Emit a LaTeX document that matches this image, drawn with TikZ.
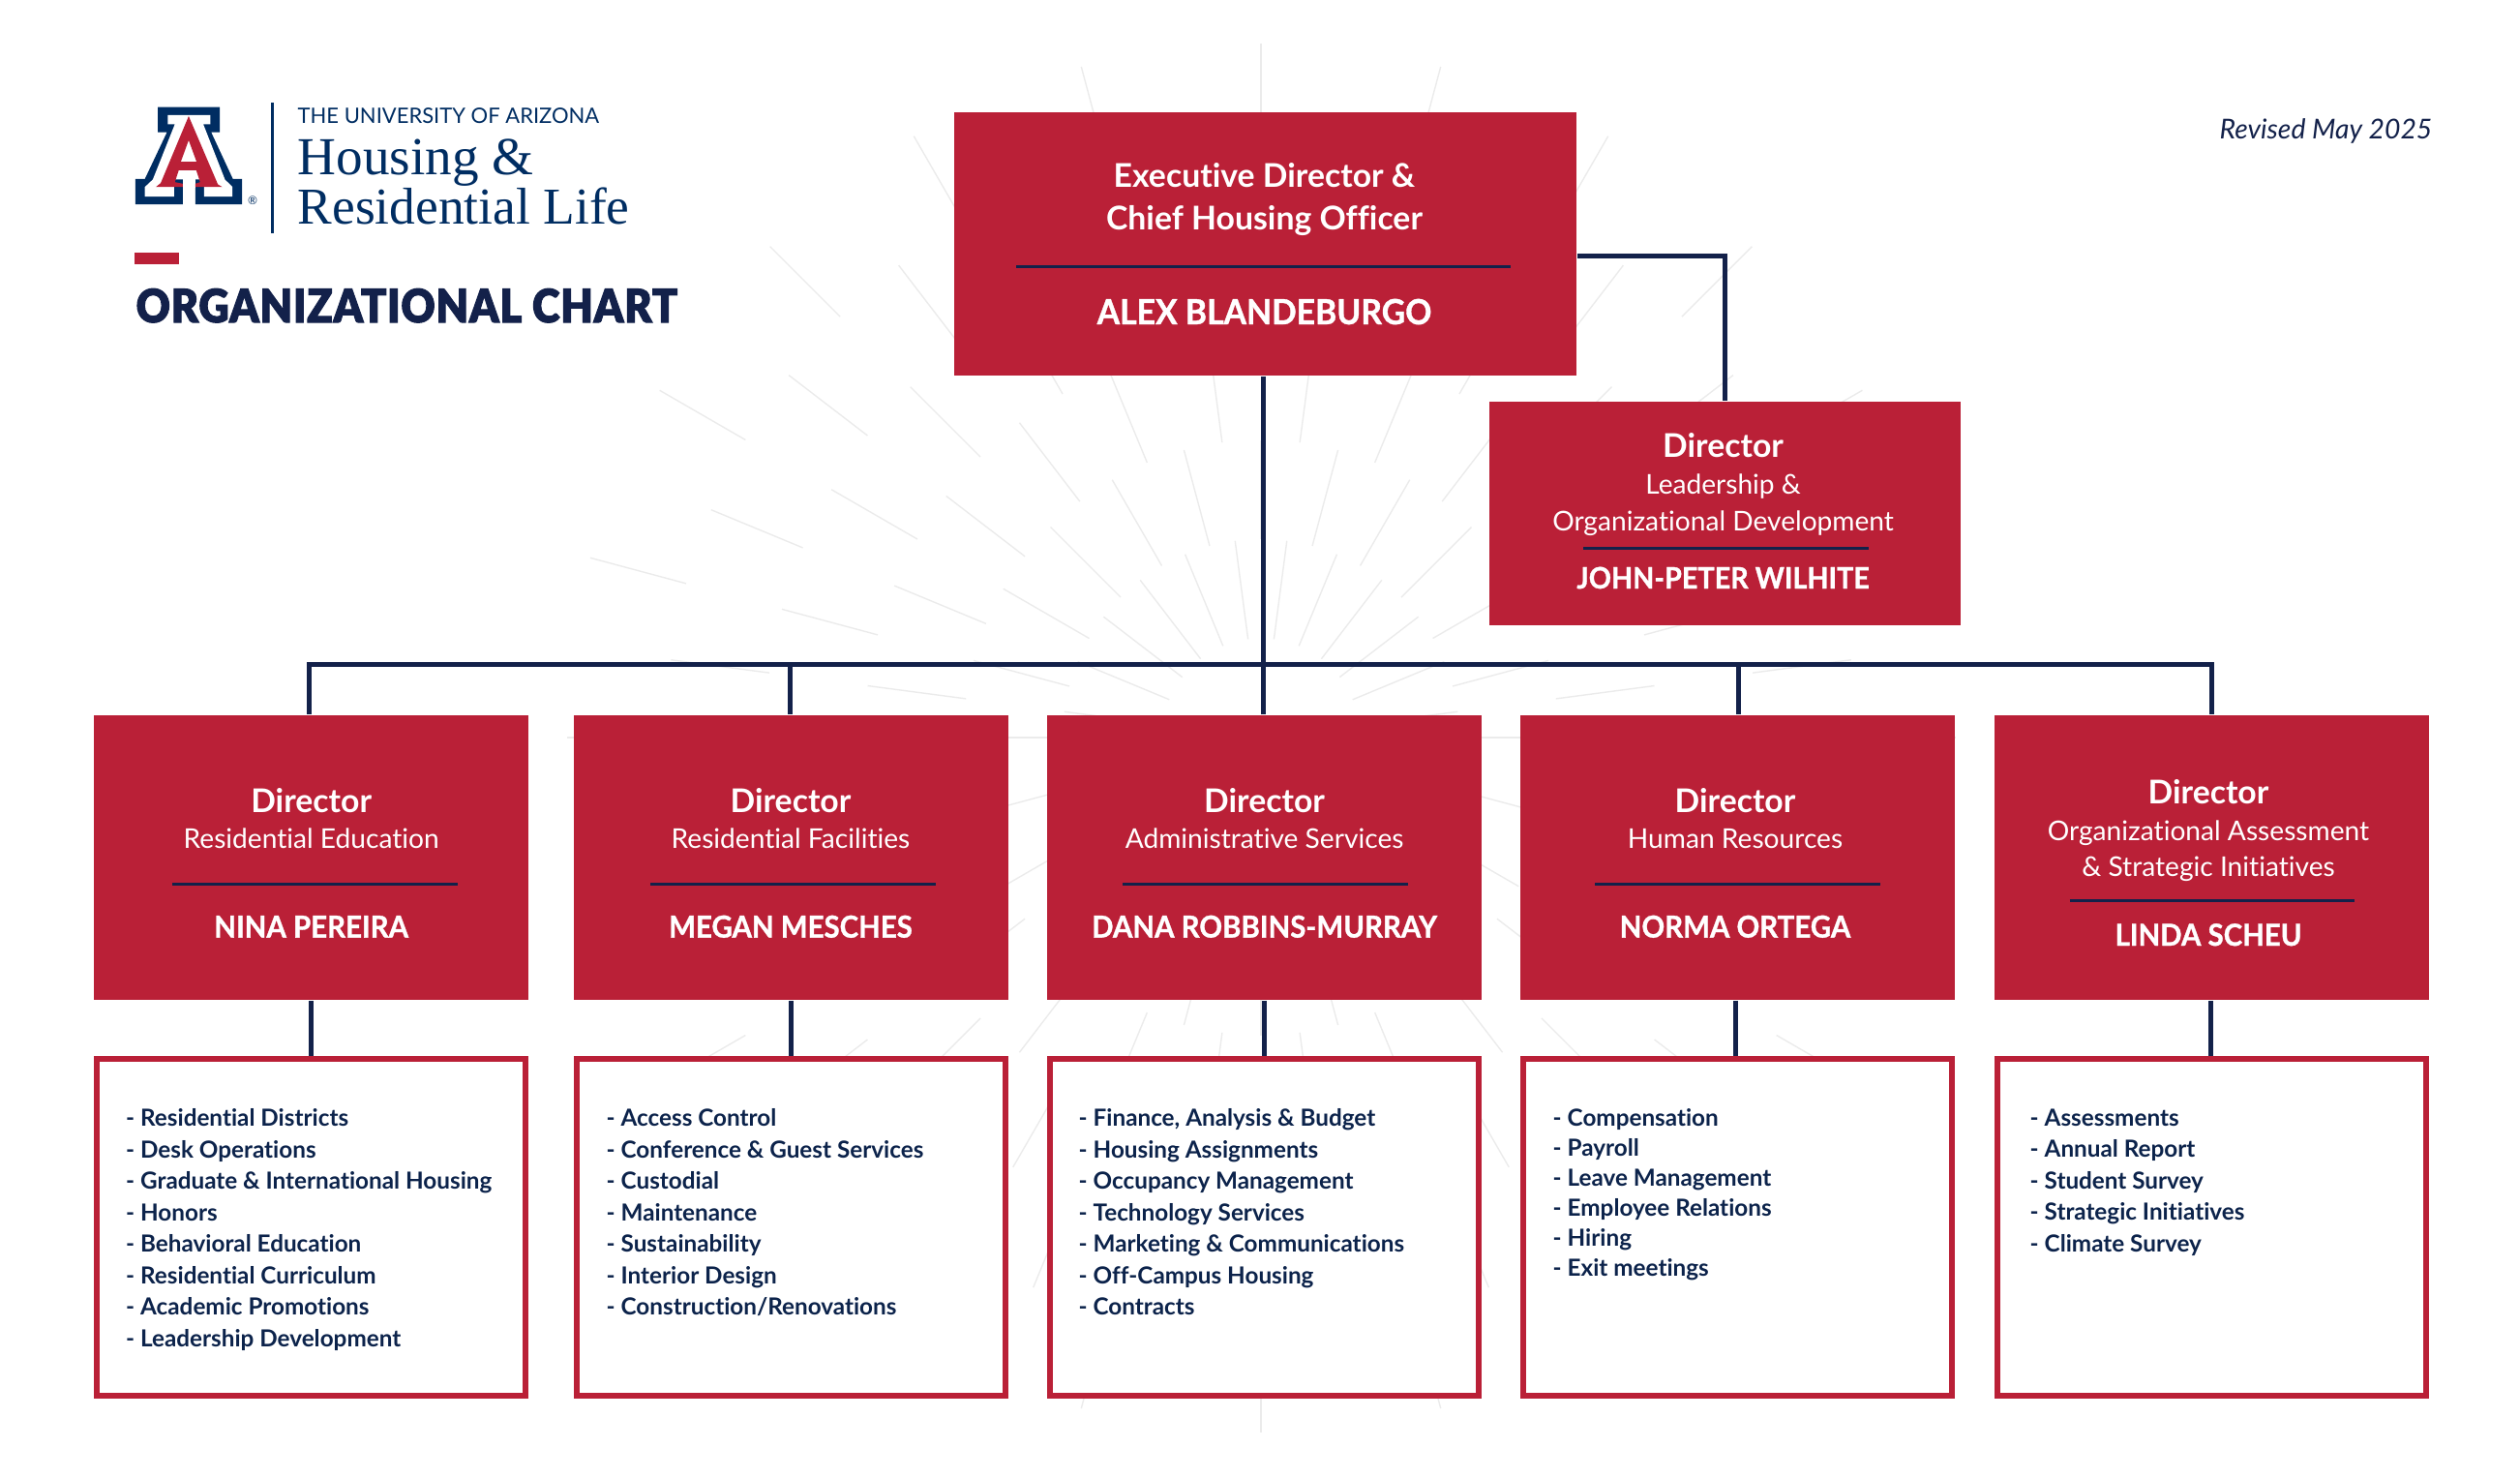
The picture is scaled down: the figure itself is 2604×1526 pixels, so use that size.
\documentclass[tikz,border=0pt]{standalone}
\usepackage{fontspec}
\setmainfont[Ligatures=NoCommon]{Lato}
\newfontfamily\serifmark{Liberation Serif}
\newfontfamily\heavymark[FakeBold=2.2,FakeStretch=0.91,LetterSpace=1.8]{Lato Black}
\newfontfamily\namemark[Ligatures=NoCommon,FakeBold=1,FakeStretch=0.94]{Lato Bold}
\definecolor{boxred}{HTML}{BA2037}
\definecolor{wirenavy}{HTML}{13214A}
\definecolor{textnavy}{HTML}{0C234B}
\definecolor{logonavy}{HTML}{002D62}
\definecolor{rayline}{HTML}{EBEBEB}
\tikzset{
  dirbox/.style={fill=boxred,inner sep=0pt,minimum width=4.49cm,minimum height=2.94cm},
  listbox/.style={draw=boxred,fill=white,line width=0.6mm,inner sep=0pt,minimum width=4.43cm,minimum height=3.48cm},
  wire/.style={draw=wirenavy,line width=0.5mm},
  rulebar/.style={draw=wirenavy,line width=0.3mm},
  ray/.style={draw=rayline,line width=0.14mm},
  headtext/.style={text=white,anchor=base,inner sep=0pt,font=\bfseries\fontsize{9.6}{12}\selectfont},
  subtext/.style={text=white,anchor=base,inner sep=0pt,font=\fontsize{8}{10}\selectfont},
  nametext/.style={text=white,anchor=base,inner sep=0pt,font=\namemark\fontsize{8.9}{12}\selectfont},
  listtext/.style={text=textnavy,anchor=north west,align=left,inner sep=0pt,font=\bfseries\fontsize{6.9}{9.24}\selectfont}
}
\begin{document}
\begin{tikzpicture}[x=0.01cm,y=-0.01cm]
  \useasboundingbox (0,0) rectangle (2604,1526);
  \begin{scope}[shift={(1303,762)}]
    \foreach \ring in {1,...,6}{
      \pgfmathsetmacro{\off}{mod(\ring,2)*7.5}
      \foreach \turn in {0,...,23}{
        \pgfmathsetmacro{\ang}{\off+15*\turn}
        \draw[ray] (\ang:102.5*\ring) -- (\ang:102.5*\ring+102.5);
      }
    }
  \end{scope}

  \begin{scope}[shift={(100,70)},x=0.00408cm,y=-0.00333cm]
    \fill[logonavy] (155,122) -- (312,122) -- (312,200) -- (290,200) -- (345,345) -- (368,345) -- (368,424) -- (250,424) -- (250,370) -- (218,370) -- (218,424) -- (98,424) -- (98,345) -- (122,345) -- (178,200) -- (155,200) -- cycle;
    \fill[white] (180,147) -- (288,147) -- (288,175) -- (270,175) -- (325,347) -- (344,370) -- (344,400) -- (272,400) -- (272,347) -- (196,347) -- (196,400) -- (122,400) -- (122,370) -- (142,347) -- (198,175) -- (180,175) -- cycle;
    \fill[white] (218,340) rectangle (250,372);
    \fill[boxred,even odd rule] (233,150) -- (307,362) -- (318,370) -- (250,370) -- (250,360) -- (262,355) -- (252,318) -- (208,318) -- (198,355) -- (218,360) -- (218,370) -- (150,370) -- (162,358) -- cycle (233,225) -- (253,292) -- (213,292) -- cycle;
  \end{scope}
  \node[text=logonavy,inner sep=0pt,font=\fontsize{3.4}{4}\selectfont] (regmark) at (261,207) {®};
  \draw[draw=logonavy,line width=0.3mm] (281,106) -- (281,241);
  \node[text=logonavy,anchor=base west,inner sep=0pt,font=\fontsize{6.25}{8}\selectfont] (univ) at (307,127) {THE UNIVERSITY OF ARIZONA};
  \node[text=logonavy,anchor=base west,inner sep=0pt,font=\serifmark\fontsize{15.7}{18}\selectfont] (housing) at (307,180) {Housing \&};
  \node[text=logonavy,anchor=base west,inner sep=0pt,font=\serifmark\fontsize{15.2}{18}\selectfont] (reslife) at (307,231) {Residential Life};
  \fill[boxred] (139,261) rectangle (185,273);
  \node[text=wirenavy,anchor=base west,inner sep=0pt,font=\heavymark\fontsize{13.5}{16}\selectfont] (chart) at (140,333) {ORGANIZATIONAL CHART};
  \node[text=wirenavy,anchor=base east,inner sep=0pt,font=\itshape\fontsize{8.05}{10}\selectfont] (revised) at (2514,143) {Revised May 2025};

  \coordinate (busl) at (319,686);
  \coordinate (busm) at (1305,686);
  \coordinate (busr) at (2285,686);
  \coordinate (busb) at (816.6,686);
  \coordinate (busd) at (1796,686);
  \coordinate (bend) at (1782,264);

  \node[dirbox,minimum width=6.43cm,minimum height=2.72cm] (top) at (1307.5,252) {};
  \node[dirbox,minimum width=4.87cm,minimum height=2.31cm] (lead) at (1782.5,530.5) {};
  \node[dirbox] (nina) at (321.5,886) {};
  \node[dirbox] (megan) at (817.5,886) {};
  \node[dirbox] (dana) at (1306.5,886) {};
  \node[dirbox] (norma) at (1795.5,886) {};
  \node[dirbox] (linda) at (2285.5,886) {};
  \node[listbox] (ninalist) at (321.5,1268) {};
  \node[listbox] (meganlist) at (817.5,1268) {};
  \node[listbox] (danalist) at (1306.5,1268) {};
  \node[listbox] (normalist) at (1795.5,1268) {};
  \node[listbox] (lindalist) at (2285.5,1268) {};

  \draw[wire] (bend -| top.east) -- (bend) -- (bend |- lead.north);
  \draw[wire] (busm |- top.south) -- (busm) -- (busm |- dana.north);
  \draw[wire] (busl |- nina.north) -- (busl) -- (busr) -- (busr |- linda.north);
  \draw[wire] (busb) -- (busb |- megan.north);
  \draw[wire] (busd) -- (busd |- norma.north);
  \draw[wire] (nina.south) -- (ninalist.north);
  \draw[wire] (megan.south) -- (meganlist.north);
  \draw[wire] (dana.south) -- (danalist.north);
  \draw[wire] ([xshift=-0.25mm]norma.south) -- ([xshift=-0.25mm]normalist.north);
  \draw[wire] ([xshift=-0.15mm]linda.south) -- ([xshift=-0.15mm]lindalist.north);

  \node[headtext] (toptitlea) at (1306.5,193) {Executive Director \&};
  \node[headtext] (toptitleb) at (1306.5,237.6) {Chief Housing Officer};
  \draw[rulebar] (1050,275.7) -- (1561,275.7);
  \node[nametext,font=\namemark\fontsize{10.2}{12}\selectfont] (topname) at (1306.5,335) {ALEX BLANDEBURGO};

  \node[headtext] (leadtitle) at (1780.6,472) {Director};
  \node[subtext] (leadsuba) at (1780.6,510.5) {Leadership \&};
  \node[subtext] (leadsubb) at (1780.6,548) {Organizational Development};
  \draw[rulebar] (1636,566.5) -- (1931,566.5);
  \node[nametext,font=\namemark\fontsize{8.7}{12}\selectfont] (leadname) at (1780.6,608) {JOHN-PETER WILHITE};

  \node[headtext] (ninatitle) at (321.7,839) {Director};
  \node[subtext] (ninasub) at (321.7,876.7) {Residential Education};
  \draw[rulebar] (178,913.5) -- (473,913.5);
  \node[nametext] (ninaname) at (321.7,968.6) {NINA PEREIRA};

  \node[headtext] (megantitle) at (817,839) {Director};
  \node[subtext] (megansub) at (817,876.7) {Residential Facilities};
  \draw[rulebar] (672,913.5) -- (967,913.5);
  \node[nametext] (meganname) at (817,968.6) {MEGAN MESCHES};

  \node[headtext] (danatitle) at (1306.6,839) {Director};
  \node[subtext] (danasub) at (1306.6,876.7) {Administrative Services};
  \draw[rulebar] (1160,913.5) -- (1455,913.5);
  \node[nametext] (dananame) at (1306.6,968.6) {DANA ROBBINS-MURRAY};

  \node[headtext] (normatitle) at (1793,839) {Director};
  \node[subtext] (normasub) at (1793,876.7) {Human Resources};
  \draw[rulebar] (1648,913.5) -- (1943,913.5);
  \node[nametext] (normaname) at (1793,968.6) {NORMA ORTEGA};

  \node[headtext] (lindatitle) at (2282,830) {Director};
  \node[subtext] (lindasuba) at (2282,868) {Organizational Assessment};
  \node[subtext] (lindasubb) at (2282,905.7) {\& Strategic Initiatives};
  \draw[rulebar] (2138.5,930) -- (2433,930);
  \node[nametext] (lindaname) at (2282,977) {LINDA SCHEU};

  \node[listtext] (ninaitems) at (129.5,1145) {- Residential Districts\\- Desk Operations\\- Graduate \& International Housing\\- Honors\\- Behavioral Education\\- Residential Curriculum\\- Academic Promotions\\- Leadership Development};
  \node[listtext] (meganitems) at (626,1145) {- Access Control\\- Conference \& Guest Services\\- Custodial\\- Maintenance\\- Sustainability\\- Interior Design\\- Construction/Renovations};
  \node[listtext] (danaitems) at (1114,1145) {- Finance, Analysis \& Budget\\- Housing Assignments\\- Occupancy Management\\- Technology Services\\- Marketing \& Communications\\- Off-Campus Housing\\- Contracts};
  \node[listtext,font=\bfseries\fontsize{6.9}{8.82}\selectfont] (normaitems) at (1604,1145) {- Compensation\\- Payroll\\- Leave Management\\- Employee Relations\\- Hiring\\- Exit meetings};
  \node[listtext] (lindaitems) at (2097,1145) {- Assessments\\- Annual Report\\- Student Survey\\- Strategic Initiatives\\- Climate Survey};
\end{tikzpicture}
\end{document}
